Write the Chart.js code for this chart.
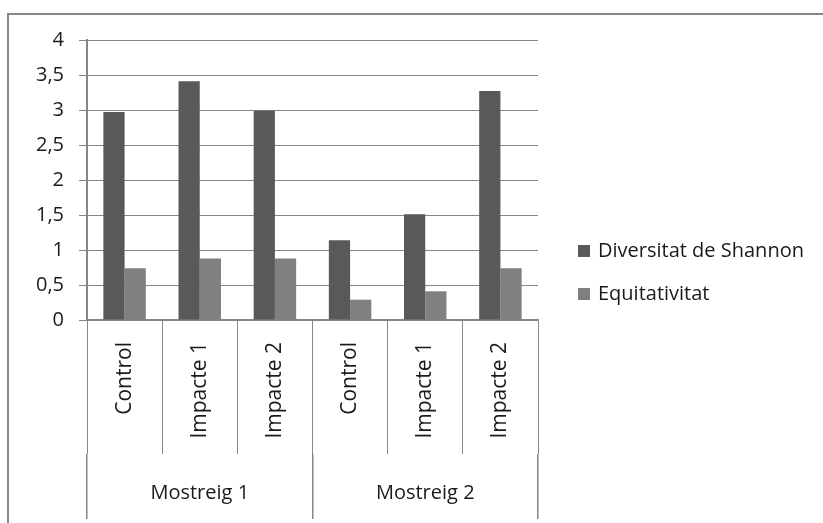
<!DOCTYPE html>
<html>
<head>
<meta charset="utf-8">
<script src="https://cdn.jsdelivr.net/npm/chart.js@4/dist/chart.umd.min.js"></script>
<style>
  html, body { margin: 0; padding: 0; background: #ffffff; overflow: hidden; }
  #wrap { position: relative; width: 823px; height: 523px; overflow: hidden; }
  #frame {
    position: absolute; left: 7px; top: 13px; width: 900px; height: 600px;
    border: 2px solid #878787; box-sizing: border-box;
  }
  #chart { position: absolute; left: 0; top: 0; }
</style>
</head>
<body>
<div id="wrap">
  <div id="frame"></div>
  <canvas id="chart" width="823" height="523"></canvas>
</div>
<script>
// Sampling sites, grouped by sampling campaign
const categories = ['Control', 'Impacte 1', 'Impacte 2', 'Control', 'Impacte 1', 'Impacte 2'];
const groups = ['Mostreig 1', 'Mostreig 2'];

// Index values per site
const shannon = [2.97, 3.41, 2.99, 1.14, 1.51, 3.27];
const equitativitat = [0.74, 0.88, 0.88, 0.29, 0.41, 0.74];

const seriesNames = ['Diversitat de Shannon', 'Equitativitat'];
const yTickLabels = ['0', '0,5', '1', '1,5', '2', '2,5', '3', '3,5', '4'];

const FONT = "'Open Sans', 'DejaVu Sans', sans-serif";
const AXIS_GREY = '#868686';
const TEXT = '#1a1a1a';

// Legend drawn at the right of the plot, one row per dataset
const sideLegend = {
  id: 'sideLegend',
  afterDraw(chart, args, opts) {
    const ctx = chart.ctx;
    ctx.save();
    ctx.font = opts.fontSize + 'px ' + FONT;
    ctx.textBaseline = 'middle';
    ctx.textAlign = 'left';
    chart.data.datasets.forEach((ds, i) => {
      const cy = opts.y + i * opts.rowGap;
      ctx.fillStyle = ds.backgroundColor;
      ctx.fillRect(opts.x, cy - opts.box / 2, opts.box, opts.box);
      ctx.fillStyle = TEXT;
      ctx.fillText(ds.label, opts.x + opts.box + opts.textGap, cy);
    });
    ctx.restore();
  }
};

new Chart(document.getElementById('chart'), {
  type: 'bar',
  data: {
    labels: categories,
    datasets: [
      { label: seriesNames[0], data: shannon, backgroundColor: '#595959', xAxisID: 'x', yAxisID: 'y' },
      { label: seriesNames[1], data: equitativitat, backgroundColor: '#808080', xAxisID: 'x', yAxisID: 'y' }
    ]
  },
  options: {
    responsive: false,
    devicePixelRatio: 1,
    animation: false,
    barPercentage: 1,
    categoryPercentage: 0.565,
    layout: { padding: { top: 40, right: 285, bottom: 0, left: 0 } },
    plugins: {
      legend: { display: false },
      tooltip: { enabled: false },
      sideLegend: { x: 578, y: 251, rowGap: 43, box: 12, textGap: 8, fontSize: 20 }
    },
    scales: {
      y: {
        position: 'left',
        min: 0,
        max: 4,
        ticks: {
          stepSize: 0.5,
          padding: 15,
          color: TEXT,
          font: { family: FONT, size: 20 },
          callback: (v, i) => yTickLabels[i]
        },
        grid: { color: AXIS_GREY, lineWidth: 1, tickLength: 8, drawTicks: true },
        border: { display: true, color: AXIS_GREY, width: 2 },
        afterFit: s => { s.width = 87; }
      },
      x: {
        position: 'bottom',
        weight: 0,
        offset: true,
        ticks: {
          autoSkip: false,
          minRotation: 90,
          maxRotation: 90,
          padding: -112,
          color: TEXT,
          font: { family: FONT, size: 21 }
        },
        grid: { offset: true, drawOnChartArea: false, drawTicks: true, tickLength: 134, color: AXIS_GREY, lineWidth: 1 },
        border: { display: true, color: AXIS_GREY, width: 1.5 },
        afterFit: s => { s.height = 134; }
      },
      x2: {
        type: 'category',
        labels: groups,
        position: 'bottom',
        weight: 1,
        offset: true,
        ticks: {
          autoSkip: false,
          maxRotation: 0,
          padding: -38,
          color: TEXT,
          font: { family: FONT, size: 20 }
        },
        grid: { offset: true, drawOnChartArea: false, drawTicks: true, tickLength: 65, color: AXIS_GREY, lineWidth: 1.5 },
        border: { display: false, width: 0 },
        afterFit: s => { s.height = 69; }
      }
    }
  },
  plugins: [sideLegend]
});
</script>
</body>
</html>
